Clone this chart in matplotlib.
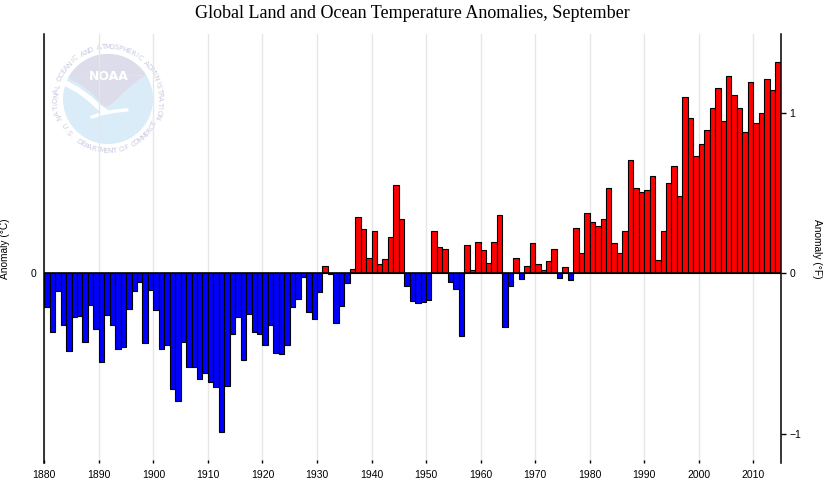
import numpy as np
import matplotlib
matplotlib.use("Agg")
import matplotlib.pyplot as plt
from matplotlib.patches import Circle, Polygon

# September global land+ocean anomalies (deg C), 1880-2014
years = list(range(1880, 2015))
anom_c = [
    -0.118, -0.204, -0.062, -0.180, -0.267, -0.150, -0.146, -0.239, -0.108, -0.194,  # 1880s
    -0.308, -0.145, -0.178, -0.263, -0.256, -0.125, -0.060, -0.031, -0.242, -0.059,  # 1890s
    -0.128, -0.263, -0.249, -0.401, -0.443, -0.236, -0.325, -0.325, -0.367, -0.344,  # 1900s
    -0.377, -0.394, -0.549, -0.391, -0.211, -0.150, -0.301, -0.139, -0.204, -0.211,  # 1910s
    -0.249, -0.178, -0.277, -0.280, -0.249, -0.118, -0.087, -0.014, -0.135, -0.159,  # 1920s
    -0.066, 0.026, -0.002, -0.170, -0.113, -0.035, 0.014, 0.196, 0.155, 0.052,      # 1930s
    0.148, 0.031, 0.048, 0.125, 0.304, 0.189, -0.042, -0.094, -0.104, -0.100,       # 1940s
    -0.093, 0.145, 0.090, 0.083, -0.029, -0.055, -0.217, 0.099, 0.010, 0.107,       # 1950s
    0.080, 0.035, 0.107, 0.201, -0.187, -0.045, 0.052, -0.020, 0.024, 0.104,        # 1960s
    0.031, 0.010, 0.042, 0.086, -0.017, 0.021, -0.024, 0.156, 0.069, 0.208,         # 1970s
    0.179, 0.164, 0.187, 0.297, 0.104, 0.069, 0.145, 0.391, 0.294, 0.280,           # 1980s
    0.287, 0.336, 0.045, 0.145, 0.311, 0.370, 0.266, 0.609, 0.536, 0.405,           # 1990s
    0.446, 0.495, 0.571, 0.640, 0.526, 0.681, 0.616, 0.571, 0.488, 0.661,           # 2000s
    0.519, 0.553, 0.671, 0.633, 0.730,                                              # 2010s
]
decade_ticks = list(range(1880, 2011, 10))
f_ticks = [-1, 0, 1]

W, H = 825, 495
fig = plt.figure(figsize=(W / 100, H / 100), dpi=100)

# faint NOAA watermark, drawn in pixel coords on a background axes
bg = fig.add_axes([0, 0, 1, 1], zorder=0)
bg.set_xlim(0, W)
bg.set_ylim(H, 0)
bg.axis("off")
cx, cy, r = 108, 99, 45
bg.add_patch(Circle((cx, cy), r, color="#d9ecf8", lw=0))
th = np.radians(np.linspace(32, 153, 40))
top = [(cx + r * np.cos(t), cy - r * np.sin(t)) for t in th]
low = [(cx + r * np.cos(th[-1]), cy - r * np.sin(th[-1])),
       (80, 84), (93, 94), (101, 104), (106, 107), (113, 103),
       (124, 92), (138, 80), (cx + r * np.cos(th[0]), cy - r * np.sin(th[0]))]
bg.add_patch(Polygon(top[::-1] + low, closed=True, color="#dcdcea", lw=0))
bg.plot([65, 78, 90, 100, 106], [83, 90, 99, 108, 112], color="white", lw=4,
        solid_capstyle="round")
bg.plot([92, 104, 116, 127], [117, 113, 111, 110], color="white", lw=2.5,
        solid_capstyle="round")
bg.text(cx + 1, 77, "NOAA", color="white", fontsize=9, fontweight="bold",
        ha="center", va="center", family="DejaVu Sans")
ring = "#c9cce2"
txt = "NATIONAL OCEANIC AND ATMOSPHERIC ADMINISTRATION"
for ch, a in zip(txt, np.linspace(200, -19, len(txt))):
    t = np.radians(a)
    bg.text(cx + 52 * np.cos(t), cy - 52 * np.sin(t), ch, rotation=a - 90,
            fontsize=5.3, color=ring, ha="center", va="center")
txt2 = "U.S. DEPARTMENT OF COMMERCE"
for ch, a in zip(txt2, np.linspace(212, 332, len(txt2))):
    t = np.radians(a)
    bg.text(cx + 52 * np.cos(t), cy - 52 * np.sin(t), ch, rotation=a + 90,
            fontsize=5.3, color=ring, ha="center", va="center")

ax = fig.add_axes([44.3 / W, 1 - 463 / H, (780.5 - 44.3) / W, (463 - 34) / H], zorder=1)
ax.set_facecolor("none")

colors = ["#ff0000" if v >= 0 else "#0000ff" for v in anom_c]
ax.bar(years, anom_c, width=1.0, align="edge", color=colors,
       edgecolor="black", linewidth=0.8, zorder=3)
ax.axhline(0, color="black", lw=1.2, zorder=4)

ylo, yhi = -0.656, 0.828
ax.set_xlim(1880, 2015)
ax.set_ylim(ylo, yhi)
ax.set_xticks(decade_ticks)
ax.set_yticks([0])
ax.xaxis.grid(True, color="#e6e6e6", lw=1)
ax.set_axisbelow(True)
ax.spines[["top", "bottom", "right"]].set_visible(False)
ax.spines["left"].set_linewidth(1.1)
ax.tick_params(axis="x", direction="in", length=2.5, width=1, pad=5, labelsize=7.5)
ax.tick_params(axis="y", length=0, pad=6, labelsize=7.5)
ax.set_ylabel("Anomaly (°C)", fontsize=7.3)
ax.yaxis.set_label_coords(-0.046, 0.5)

ax2 = ax.twinx()
ax2.set_ylim(ylo * 1.8, yhi * 1.8)
ax2.set_yticks(f_ticks)
ax2.spines[["top", "bottom", "left"]].set_visible(False)
ax2.spines["right"].set_linewidth(1.1)
ax2.tick_params(axis="y", length=3.5, width=1, pad=3, labelsize=7.5)
ax2.set_ylabel("Anomaly (°F)", fontsize=7.3, rotation=270)
ax2.yaxis.set_label_coords(1.056, 0.5)

for a in (ax, ax2):
    for lab in a.get_xticklabels() + a.get_yticklabels():
        lab.set_family("Liberation Sans")
    a.yaxis.label.set_family("Liberation Sans")

fig.text(0.5, 1 - 14 / H, "Global Land and Ocean Temperature Anomalies, September",
         ha="center", va="center", fontsize=13, family="Liberation Serif")

fig.savefig("out.png", dpi=100)
